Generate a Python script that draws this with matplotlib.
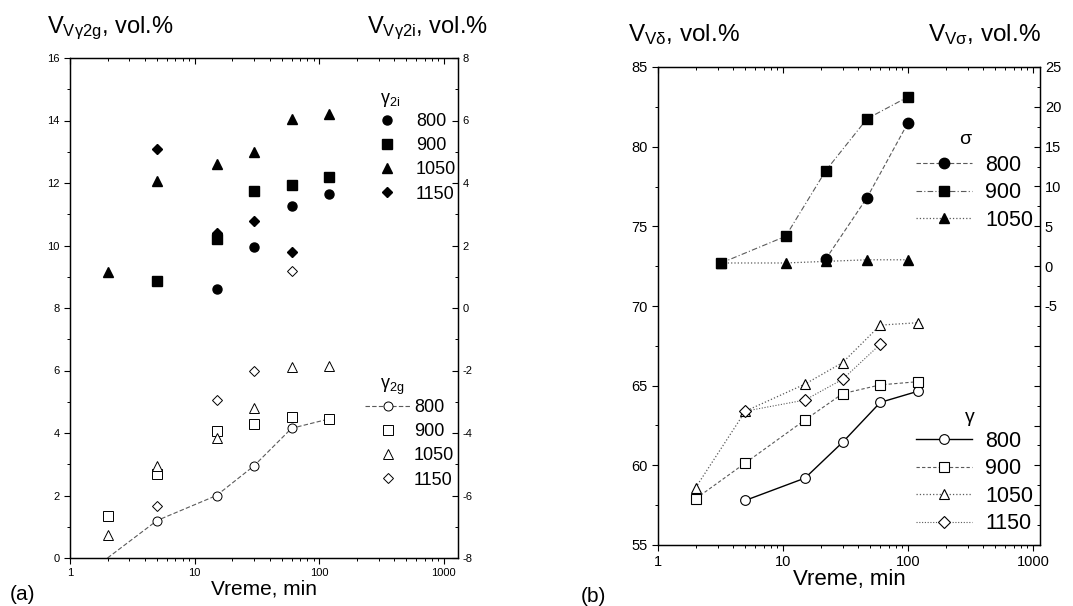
import matplotlib
matplotlib.use("Agg")
import matplotlib.pyplot as plt
import numpy as np
from matplotlib.ticker import MultipleLocator

plt.rcParams['font.family'] = ['Liberation Sans', 'DejaVu Sans']
plt.rcParams['mathtext.fontset'] = 'custom'
plt.rcParams['mathtext.rm'] = 'Liberation Sans'
plt.rcParams['mathtext.it'] = 'Liberation Sans:italic'
plt.rcParams['axes.unicode_minus'] = False

# ---- panel (a): gamma_2g (left axis, open markers)
t_a = [2, 5, 15, 30, 60, 120]
g2g_800 = [0.0, 1.2, 2.0, 2.95, 4.15, 4.45]
g2g_900 = [1.35, 2.7, 4.05, 4.3, 4.5, 4.45]
g2g_1050 = [0.75, 2.95, 3.85, 4.8, 6.1, 6.15]
t_g2g_1150 = [5, 15, 30, 60]
g2g_1150 = [1.65, 5.05, 6.0, 9.2]

# ---- panel (a): gamma_2i (right axis, filled markers)
t_g2i_800 = [15, 30, 60, 120]
g2i_800 = [0.6, 1.95, 3.25, 3.65]
t_g2i_900 = [5, 15, 30, 60, 120]
g2i_900 = [0.85, 2.2, 3.75, 3.95, 4.2]
t_g2i_1050 = [2, 5, 15, 30, 60, 120]
g2i_1050 = [1.15, 4.05, 4.6, 5.0, 6.05, 6.2]
t_g2i_1150 = [5, 15, 30, 60]
g2i_1150 = [5.1, 2.4, 2.8, 1.8]

# ---- panel (b): gamma (delta) left axis
t_b = [2, 5, 15, 30, 60, 120]
t_g_800 = [5, 15, 30, 60, 120]
g_800 = [57.8, 59.2, 61.45, 63.95, 64.65]
g_900 = [57.9, 60.15, 62.85, 64.5, 65.05, 65.25]
g_1050 = [58.6, 63.4, 65.1, 66.45, 68.8, 68.95]
t_g_1150 = [5, 15, 30, 60]
g_1150 = [63.4, 64.1, 65.4, 67.6]

# ---- panel (b): sigma right axis
t_s = [3.2, 10.5, 22, 47, 100]
s_900 = [0.4, 3.75, 12.0, 18.5, 21.25]
t_s_800 = [22, 47, 100]
s_800 = [0.9, 8.6, 18.0]
s_1050 = [0.4, 0.4, 0.6, 0.8, 0.8]

temps = ['800', '900', '1050', '1150']
x_ticks = [1, 10, 100, 1000]

W, H = 1073, 606
fig = plt.figure(figsize=(W / 100, H / 100), dpi=100)

def px(x0, y0, x1, y1):
    return [x0 / W, 1 - y1 / H, (x1 - x0) / W, (y1 - y0) / H]

lc = '#5a5a5a'

def style_axes(ax, ax2, fs):
    ax.set_xscale('log')
    ax.set_xticks(x_ticks)
    ax.set_xticklabels([str(v) for v in x_ticks])
    ax.tick_params(axis='x', which='both', direction='out', top=False, labelsize=fs)
    ax.tick_params(axis='y', which='both', direction='out', labelsize=fs)
    ax.tick_params(which='major', length=4, width=0.8)
    ax.tick_params(which='minor', length=2.5, width=0.7)
    ax2.xaxis.set_visible(True)
    ax2.tick_params(axis='x', which='both', bottom=False, top=True,
                    labelbottom=False, labeltop=False, direction='in')
    ax2.tick_params(axis='y', which='both', direction='in', labelsize=fs)
    ax2.tick_params(which='major', length=4, width=0.8)
    ax2.tick_params(which='minor', length=2.5, width=0.7)
    for a in (ax, ax2):
        for s in a.spines.values():
            s.set_linewidth(0.9)

# ================= panel (a)
ax = fig.add_axes(px(70, 58, 458, 558))
ax2 = ax.twinx()

l800, = ax.plot(t_a, g2g_800, ls=(0, (4, 2)), color=lc, lw=0.8, marker='o', ms=6.5,
                mfc='white', mec='black', mew=0.7, markevery=[1, 2, 3, 4, 5])
l900, = ax.plot(t_a, g2g_900, ls='none', marker='s', ms=6.5, mfc='white', mec='black', mew=0.7)
l1050, = ax.plot(t_a, g2g_1050, ls='none', marker='^', ms=6.5, mfc='white', mec='black', mew=0.7)
l1150, = ax.plot(t_g2g_1150, g2g_1150, ls='none', marker='D', ms=5.5, mfc='white', mec='black', mew=0.7)

f800, = ax2.plot(t_g2i_800, g2i_800, ls='none', marker='o', ms=6.5, color='black')
f900, = ax2.plot(t_g2i_900, g2i_900, ls='none', marker='s', ms=6.5, color='black')
f1050, = ax2.plot(t_g2i_1050, g2i_1050, ls='none', marker='^', ms=6.5, color='black')
f1150, = ax2.plot(t_g2i_1150, g2i_1150, ls='none', marker='D', ms=5.5, color='black')

ax.set_xlim(1, 1300)
ax.set_ylim(0, 16)
ax.yaxis.set_major_locator(MultipleLocator(2))
ax.yaxis.set_minor_locator(MultipleLocator(1))
ax2.set_ylim(-8, 8)
ax2.yaxis.set_major_locator(MultipleLocator(2))
ax2.yaxis.set_minor_locator(MultipleLocator(1))
style_axes(ax, ax2, 8)
ax.set_xlabel('Vreme, min', fontsize=15, labelpad=1)

ax2.legend([f800, f900, f1050, f1150], temps, loc='upper left',
           bbox_to_anchor=((378 - 70) / 388, (558 - 113) / 500),
           frameon=False, fontsize=13, handlelength=1.0, handletextpad=1.1,
           borderpad=0, borderaxespad=0, labelspacing=0.4, numpoints=1)
ax.legend([l800, l900, l1050, l1150], temps, loc='upper left',
          bbox_to_anchor=((365 - 70) / 388, (558 - 399) / 500),
          frameon=False, fontsize=13, handlelength=2.5, handletextpad=0.2,
          borderpad=0, borderaxespad=0, labelspacing=0.4, numpoints=1)
fig.text(380 / W, 1 - 100 / H, r'$\mathregular{\gamma_{2i}}$', fontsize=13, va='center')
fig.text(380 / W, 1 - 387 / H, r'$\mathregular{\gamma_{2g}}$', fontsize=13, va='center')

fig.text(47 / W, 1 - 33 / H, r'V$_{\mathregular{V\gamma 2g}}$, vol.%', fontsize=17, va='baseline')
fig.text(367 / W, 1 - 33 / H, r'V$_{\mathregular{V\gamma 2i}}$, vol.%', fontsize=17, va='baseline')
fig.text(10 / W, 1 - 594 / H, '(a)', fontsize=15, va='center')

# ================= panel (b)
bx = fig.add_axes(px(658, 67, 1040, 545))
bx2 = bx.twinx()

gl800, = bx.plot(t_g_800, g_800, ls='-', color='black', lw=1.0, marker='o', ms=7,
                 mfc='white', mec='black', mew=0.8)
gl900, = bx.plot(t_b, g_900, ls=(0, (3, 2)), color=lc, lw=0.8, marker='s', ms=7,
                 mfc='white', mec='black', mew=0.8)
gl1050, = bx.plot(t_b, g_1050, ls=':', color=lc, lw=0.9, marker='^', ms=7,
                  mfc='white', mec='black', mew=0.8)
gl1150, = bx.plot(t_g_1150, g_1150, ls=(0, (1, 1.5)), color=lc, lw=0.8, marker='D', ms=6,
                  mfc='white', mec='black', mew=0.8)

sl1050, = bx2.plot(t_s, s_1050, ls=':', color=lc, lw=0.9, marker='^', ms=7.5,
                   mfc='black', mec='black')
sl800, = bx2.plot(t_s_800, s_800, ls=(0, (4, 2)), color=lc, lw=0.8, marker='o', ms=7.5,
                  mfc='black', mec='black')
sl900, = bx2.plot(t_s, s_900, ls=(0, (5, 2, 1, 2)), color=lc, lw=0.8, marker='s', ms=7.5,
                  mfc='black', mec='black')

bx.set_xlim(1, 1137)
bx.set_ylim(55, 85)
bx.yaxis.set_major_locator(MultipleLocator(5))
bx.yaxis.set_minor_locator(MultipleLocator(2.5))
bx2.set_ylim(-35, 25)
s_ticks = np.arange(-35, 26, 5)
bx2.set_yticks(s_ticks)
bx2.set_yticklabels([str(v) if v >= -5 else '' for v in s_ticks])
bx2.yaxis.set_minor_locator(MultipleLocator(2.5))
style_axes(bx, bx2, 10.5)
bx.set_xlabel('Vreme, min', fontsize=16, labelpad=0)

bx2.legend([sl800, sl900, sl1050], temps[:3], loc='upper left',
           bbox_to_anchor=((916 - 658) / 382, (545 - 155) / 478),
           frameon=False, fontsize=15.5, handlelength=2.6, handletextpad=0.6,
           borderpad=0, borderaxespad=0, labelspacing=0.3, numpoints=1)
bx.legend([gl800, gl900, gl1050, gl1150], temps, loc='upper left',
          bbox_to_anchor=((916 - 658) / 382, (545 - 431) / 478),
          frameon=False, fontsize=15.5, handlelength=2.6, handletextpad=0.6,
          borderpad=0, borderaxespad=0, labelspacing=0.3, numpoints=1)
fig.text(965 / W, 1 - 140 / H, 'σ', fontsize=14, va='center', ha='center')
fig.text(970 / W, 1 - 417 / H, 'γ', fontsize=14, va='center', ha='center')

fig.text(628 / W, 1 - 41 / H, r'V$_{\mathregular{V\delta}}$, vol.%', fontsize=17.5, va='baseline')
fig.text(928 / W, 1 - 41 / H, r'V$_{\mathregular{V\sigma}}$, vol.%', fontsize=17.5, va='baseline')
fig.text(593 / W, 1 - 597 / H, '(b)', fontsize=15, va='center', ha='center')

fig.savefig('out.png', dpi=100)
